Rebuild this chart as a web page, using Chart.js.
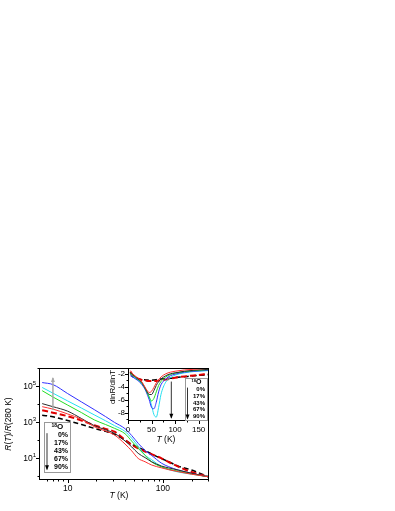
<!DOCTYPE html>
<html>
<head>
<meta charset="utf-8">
<script src="https://cdn.jsdelivr.net/npm/chart.js@4"></script>
<style>
html, body { margin: 0; padding: 0; background: #fff; }
#wrap { position: relative; width: 395px; height: 511px; }
#main { position: absolute; left: 0; top: 0; }
#inset { position: absolute; left: 106px; top: 358px; }
</style>
</head>
<body>
<div id="wrap">
<canvas id="main" width="395" height="511"></canvas>
<canvas id="inset" width="289" height="90"></canvas>
</div>
<script>
// main panel: R(T)/R(280 K) vs T
const mainTemps = [5.4, 7, 10, 14, 19, 25, 31, 40, 47, 55, 65, 76, 97, 115, 145, 200, 300];
const mainRed   = [7100, 5200, 2800, 1410, 550, 316, 191, 60, 25, 9.5, 6.2, 4.1, 2.82, 2.24, 1.74, 1.26, 0.91];
const mainBlack = [10500, 7100, 4000, 1550, 631, 372, 234, 89, 41.7, 18.2, 10.5, 6.2, 3.55, 2.82, 2.14, 1.41, 0.91];
const mainGreen = [55000, 24500, 8700, 3300, 1320, 724, 447, 224, 87, 34.7, 14.1, 6.2, 3.16, 2.4, 1.86, 1.32, 0.91];
const mainBlue  = [155000, 120000, 38000, 12900, 4900, 2000, 955, 427, 178, 66, 26.3, 14.1, 5.1, 3.3, 2.14, 1.41, 0.91];
const mainCyan  = [83000, 40000, 14800, 5900, 2500, 1170, 631, 302, 126, 45.7, 14.5, 8.1, 3.3, 2.29, 1.66, 1.26, 0.91];
const mainRedDash   = [4500, 3300, 2100, 1200, 661, 417, 288, 102, 52.5, 34.7, 22.4, 16.2, 9.5, 6.0, 3.3, 1.66, 0.91];
const mainBlackDash = [2400, 1950, 1200, 724, 447, 302, 209, 100, 57.5, 39.8, 26.3, 16.6, 9.3, 6.2, 3.55, 2.14, 0.91];

// inset: dlnR/dlnT vs T
const insetTemps = [5, 10, 20, 30, 38, 45, 50, 55, 60, 65, 70, 80, 90, 100, 120, 140, 172];
const insetRed   = [-1.5, -2.0, -2.6, -3.3, -4.3, -4.9, -4.7, -4.1, -3.4, -2.9, -2.5, -2.0, -1.75, -1.6, -1.4, -1.3, -1.15];
const insetBlack = [-1.7, -2.1, -2.7, -3.4, -4.4, -5.2, -5.2, -4.6, -3.8, -3.2, -2.8, -2.3, -2.0, -1.85, -1.6, -1.45, -1.3];
const insetGreen = [-1.8, -2.2, -2.8, -3.5, -4.5, -5.6, -6.2, -5.8, -4.8, -3.8, -3.2, -2.5, -2.1, -1.9, -1.65, -1.5, -1.35];
const insetBlue  = [-2.3, -2.5, -3.0, -3.7, -4.7, -6.0, -7.2, -7.4, -6.4, -4.8, -3.7, -2.8, -2.3, -2.05, -1.75, -1.6, -1.45];
const insetCyan  = [-2.0, -2.4, -2.9, -3.6, -4.5, -5.6, -6.9, -8.3, -8.7, -7.2, -5.2, -3.3, -2.6, -2.2, -1.85, -1.65, -1.5];
const insetRedDash   = [-1.7, -2.2, -2.7, -2.95, -3.05, -3.1, -3.1, -3.1, -3.1, -3.05, -3.0, -2.9, -2.75, -2.6, -2.4, -2.25, -2.0];
const insetBlackDash = [-1.9, -2.4, -2.8, -2.9, -2.95, -3.0, -3.0, -2.95, -2.9, -2.85, -2.8, -2.75, -2.7, -2.6, -2.45, -2.3, -2.15];

const oxygenLabels = ['0%', '17%', '43%', '67%', '90%'];

const xMainTicks = [10, 100];
const xMainMinor = [6, 7, 8, 9, 20, 30, 40, 50, 60, 70, 80, 90, 200, 300];
const yMainTicks = [10, 1000, 100000];
const yMainTickExps = ['1', '3', '5'];
const yMainMinor = [1, 100, 10000, 1000000];
const xInsetTicks = [0, 50, 100, 150];
const xInsetMinor = [25, 75, 125];
const yInsetTicks = [-8, -6, -4, -2];
const yInsetMinor = [-9, -7, -5, -3];

const fontFam = '"Liberation Sans", Arial, sans-serif';

function pts(xs, ys) {
  return xs.map((x, i) => ({x: x, y: ys[i]}));
}

function richText(ctx, parts, x, y, size, rot, bold) {
  ctx.save();
  ctx.translate(x, y);
  if (rot) ctx.rotate(rot);
  ctx.fillStyle = '#000';
  ctx.textBaseline = 'middle';
  ctx.textAlign = 'left';
  const f = p => (p[1] ? 'italic ' : '') + (bold ? 'bold ' : '') + size + 'px ' + fontFam;
  let w = 0;
  parts.forEach(p => { ctx.font = f(p); w += ctx.measureText(p[0]).width; });
  let cx = -w / 2;
  parts.forEach(p => { ctx.font = f(p); ctx.fillText(p[0], cx, 0); cx += ctx.measureText(p[0]).width; });
  ctx.restore();
}

function arrow(ctx, x, y1, y2, color, width, head) {
  ctx.save();
  ctx.strokeStyle = color;
  ctx.fillStyle = color;
  ctx.lineWidth = width;
  ctx.beginPath();
  ctx.moveTo(x, y1);
  ctx.lineTo(x, y2);
  ctx.stroke();
  const d = y2 > y1 ? 1 : -1;
  ctx.beginPath();
  ctx.moveTo(x, y2 + d);
  ctx.lineTo(x - head / 2, y2 - d * head);
  ctx.lineTo(x + head / 2, y2 - d * head);
  ctx.closePath();
  ctx.fill();
  ctx.restore();
}

function legendBox(ctx, left, top, w, h, size, step, arrowX) {
  ctx.save();
  ctx.fillStyle = '#fff';
  ctx.fillRect(left, top, w, h);
  ctx.strokeStyle = '#999';
  ctx.lineWidth = 1;
  ctx.strokeRect(left + .5, top + .5, w, h);
  ctx.fillStyle = '#000';
  ctx.textBaseline = 'middle';
  // 18O header
  ctx.font = 'bold ' + (size - 2) + 'px ' + fontFam;
  ctx.textAlign = 'right';
  const ox = left + w * 0.5;
  ctx.fillText('18', ox, top + size * 0.5);
  ctx.textAlign = 'left';
  ctx.font = 'bold ' + (size + 1) + 'px ' + fontFam;
  ctx.fillText('O', ox, top + size * 0.75);
  ctx.font = 'bold ' + size + 'px ' + fontFam;
  ctx.textAlign = 'right';
  oxygenLabels.forEach((t, i) => {
    ctx.fillText(t, left + w - 2, top + size * 1.9 + i * step);
  });
  ctx.restore();
  arrow(ctx, left + arrowX, top + size * 1.6, top + size * 1.9 + 4 * step + 2, '#000', 0.8, 4);
}

const frameTicks = {
  id: 'frameTicks',
  beforeDraw(chart, args, o) {
    if (!o.fill) return;
    const a = chart.chartArea;
    chart.ctx.save();
    chart.ctx.fillStyle = '#fff';
    chart.ctx.fillRect(a.left, a.top, a.right - a.left, a.bottom - a.top);
    chart.ctx.restore();
  },
  afterDraw(chart, args, o) {
    const {ctx, chartArea: a} = chart;
    const sx = chart.scales.x, sy = chart.scales.y;
    ctx.save();
    ctx.strokeStyle = '#000';
    ctx.lineWidth = 1;
    ctx.strokeRect(a.left + .5, a.top + .5, a.right - a.left - 1, a.bottom - a.top - 1);
    ctx.beginPath();
    const xt = (vals, len) => vals.forEach(v => {
      const p = Math.round(sx.getPixelForValue(v)) + .5;
      if (p < a.left || p > a.right) return;
      ctx.moveTo(p, a.bottom); ctx.lineTo(p, a.bottom + len);
    });
    const yt = (vals, len) => vals.forEach(v => {
      const p = Math.round(sy.getPixelForValue(v)) + .5;
      if (p < a.top || p > a.bottom) return;
      ctx.moveTo(a.left, p); ctx.lineTo(a.left - len, p);
    });
    xt(o.xMajor, 3); xt(o.xMinor, 1.5);
    yt(o.yMajor, 3); yt(o.yMinor, 1.5);
    ctx.stroke();
    ctx.restore();
    if (o.extra) o.extra(chart);
  }
};

function axisScale(type, min, max, ticks, fmt, size, fitKey, fitVal, pad) {
  return {
    type: type, min: min, max: max, bounds: 'data',
    grid: {display: false, drawTicks: false},
    border: {display: false},
    afterBuildTicks: s => { s.ticks = ticks.map(v => ({value: v})); },
    afterFit: s => { s[fitKey] = fitVal; },
    ticks: {autoSkip: false, maxRotation: 0, padding: pad, color: '#000',
            font: {size: size, family: fontFam}, callback: fmt}
  };
}

function line(data, color, width, dash) {
  return {data: data, borderColor: color, borderWidth: width, borderDash: dash || [],
          pointRadius: 0, fill: false, cubicInterpolationMode: 'monotone'};
}

// power-of-ten labels: "10" with a raised exponent
function powerLabels(chart) {
  const {ctx, chartArea: a, scales: {y}} = chart;
  ctx.save();
  ctx.fillStyle = '#000';
  ctx.textAlign = 'right';
  ctx.textBaseline = 'middle';
  yMainTicks.forEach((v, i) => {
    const py = y.getPixelForValue(v);
    const right = a.left - 3;
    ctx.font = '6px ' + fontFam;
    const ew = ctx.measureText(yMainTickExps[i]).width;
    ctx.fillText(yMainTickExps[i], right, py - 3);
    ctx.font = '8.5px ' + fontFam;
    ctx.fillText('10', right - ew, py + 1);
  });
  ctx.restore();
}

new Chart(document.getElementById('main'), {
  type: 'line',
  data: {
    datasets: [
      line(pts(mainTemps, mainRed), '#ff3030', 1),
      line(pts(mainTemps, mainBlack), '#2a2a2a', 1),
      line(pts(mainTemps, mainGreen), '#22dd22', 1),
      line(pts(mainTemps, mainBlue), '#3030ff', 1),
      line(pts(mainTemps, mainCyan), '#22e0f0', 1),
      line(pts(mainTemps, mainRedDash), '#e00000', 2, [6, 3]),
      line(pts(mainTemps, mainBlackDash), '#000', 1.5, [5, 3])
    ]
  },
  options: {
    responsive: false,
    animation: false,
    layout: {padding: {left: 0, top: 368, right: 186, bottom: 0}},
    plugins: {
      legend: {display: false},
      tooltip: {enabled: false},
      frameTicks: {
        xMajor: xMainTicks, xMinor: xMainMinor, yMajor: yMainTicks, yMinor: yMainMinor,
        extra: chart => {
          const {ctx, chartArea: a, scales: {x, y}} = chart;
          powerLabels(chart);
          arrow(ctx, x.getPixelForValue(7), y.getPixelForValue(4600), y.getPixelForValue(280000), '#aaa', 1.5, 4);
          legendBox(ctx, a.left + 5, a.top + 54, 26, 50, 7, 8, 3);
          richText(ctx, [['R', 1], ['(', 0], ['T', 1], [')/', 0], ['R', 1], ['(280 K)', 0]], 9, (a.top + a.bottom) / 2, 8.5, -Math.PI / 2);
          richText(ctx, [['T', 1], [' (K)', 0]], 119, 496, 8.5, 0);
        }
      }
    },
    scales: {
      x: axisScale('logarithmic', 5, 305, xMainTicks, v => String(v), 8.5, 'height', 31, 4),
      y: axisScale('logarithmic', 0.6, 1000000, yMainTicks, () => '', 8.5, 'width', 39, 3)
    }
  },
  plugins: [frameTicks]
});

new Chart(document.getElementById('inset'), {
  type: 'line',
  data: {
    datasets: [
      line(pts(insetTemps, insetRed), '#ff3030', 1),
      line(pts(insetTemps, insetBlack), '#2a2a2a', 1),
      line(pts(insetTemps, insetGreen), '#22dd22', 1),
      line(pts(insetTemps, insetBlue), '#3030ff', 1),
      line(pts(insetTemps, insetCyan), '#22e0f0', 1),
      line(pts(insetTemps, insetRedDash), '#e00000', 2, [6, 3]),
      line(pts(insetTemps, insetBlackDash), '#000', 1.5, [5, 3])
    ]
  },
  options: {
    responsive: false,
    animation: false,
    layout: {padding: {left: 0, top: 10, right: 186, bottom: 0}},
    plugins: {
      legend: {display: false},
      tooltip: {enabled: false},
      frameTicks: {
        fill: true,
        xMajor: xInsetTicks, xMinor: xInsetMinor, yMajor: yInsetTicks, yMinor: yInsetMinor,
        extra: chart => {
          const {ctx, chartArea: a, scales: {x, y}} = chart;
          arrow(ctx, x.getPixelForValue(92), y.getPixelForValue(-3.2), y.getPixelForValue(-8.8), '#000', 0.8, 4);
          legendBox(ctx, a.left + 57, a.top + 10, 22, 42, 6, 6.8, 2.5);
          richText(ctx, [['dlnR/dlnT', 0]], a.left - 15, a.top + 19, 8, -Math.PI / 2);
          richText(ctx, [['T', 1], [' (K)', 0]], a.left + 38, a.bottom + 19, 8.5, 0);
        }
      }
    },
    scales: {
      x: axisScale('linear', 0, 172, xInsetTicks, v => String(v), 8, 'height', 27, 4),
      y: axisScale('linear', -9.3, -1.1, yInsetTicks, v => String(v), 8, 'width', 22, 3)
    }
  },
  plugins: [frameTicks]
});
</script>
</body>
</html>
